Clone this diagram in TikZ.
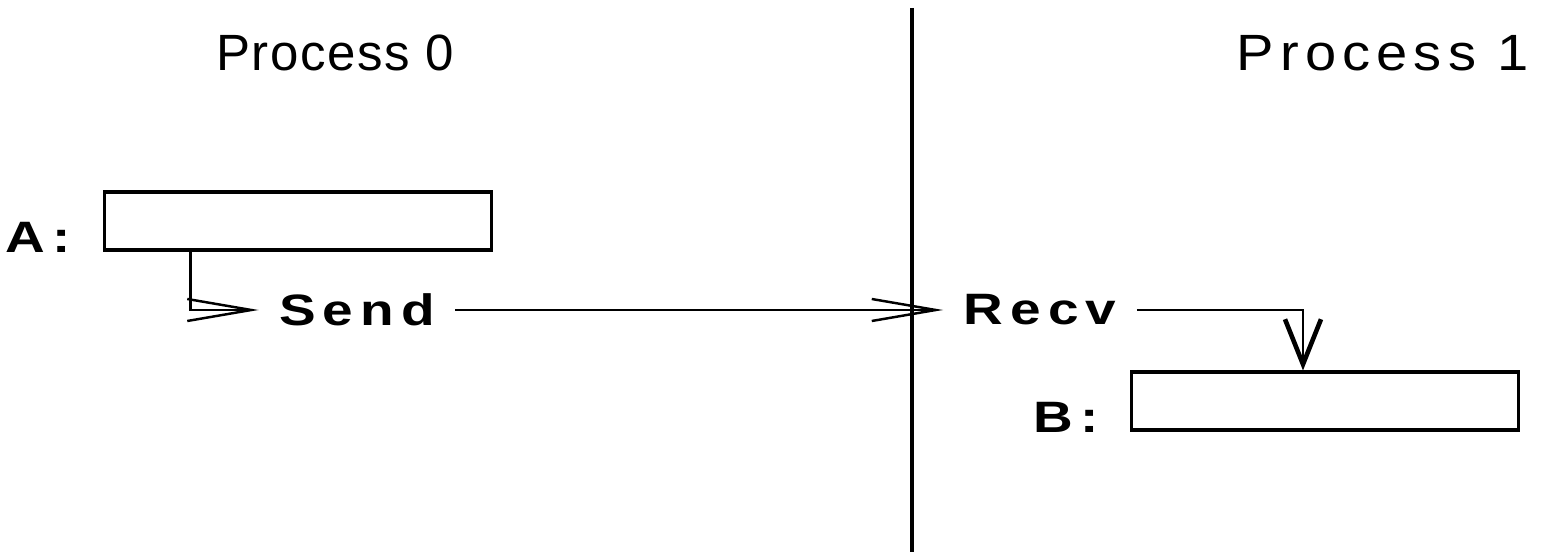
\documentclass[tikz,border=0pt]{standalone}
\usepackage{fontspec}
\setmainfont{Liberation Sans}
\newfontfamily\titlefont[LetterSpace=3]{Liberation Sans}
\newfontfamily\widetitlefont[LetterSpace=12, FakeStretch=1.1]{Liberation Sans}
\newfontfamily\lblfont[LetterSpace=16, FakeStretch=1.25]{Liberation Sans Bold}
\usetikzlibrary{positioning}
\usetikzlibrary{arrows.meta}

\begin{document}
\begin{tikzpicture}[x=0.01cm, y=-0.01cm,
    title/.style={font=\titlefont\fontsize{14.5}{17}\selectfont, inner sep=0},
    lbl/.style={font=\lblfont\fontsize{12.5}{14}\selectfont, inner sep=0.2cm},
    buf/.style={draw, line width=0.9pt, minimum width=3.86cm, minimum height=0.58cm, inner sep=0},
    msg/.style={line width=0.7pt, -{Straight Barb[length=0.64cm, width=0.22cm]}},
    msgdown/.style={line width=0.7pt, -{Straight Barb[length=0.45cm, width=0.36cm, line width=1.3pt]}}]

    \useasboundingbox (0,0) rectangle (1542,552);

    \coordinate (top) at (912,8);
    \coordinate (bot) at (912,552);
    \draw[line width=1.4pt] (top) -- (bot);

    \node[title] (p0) at (335,53) {Process 0};
    \node[title, font=\widetitlefont\fontsize{14.5}{17}\selectfont] (p1) at (1383,53) {Process 1};

    \node[buf] (boxA) at (298,221) {};
    \node[buf] (boxB) at (1325,401) {};
    \node[lbl, inner sep=0, anchor=south east] (labA) at ([xshift=-0.32cm, yshift=-0.02cm]boxA.south west) {A:};
    \node[lbl, inner sep=0, anchor=south east] (labB) at ([xshift=-0.31cm, yshift=-0.02cm]boxB.south west) {B:};

    \node[lbl] (send) at (357,310) {Send};
    \node[lbl] (recv) at (1040,310) {Recv};

    \coordinate (a0) at ([xshift=0.87cm]boxA.south west);
    \coordinate (b0) at ([xshift=-0.22cm]boxB.north);

    \draw[msg] (a0) |- (send.west);
    \draw[msg] (send.east) -- (recv.west);
    \draw[msgdown] (recv.east) -| (b0);

\end{tikzpicture}
\end{document}
